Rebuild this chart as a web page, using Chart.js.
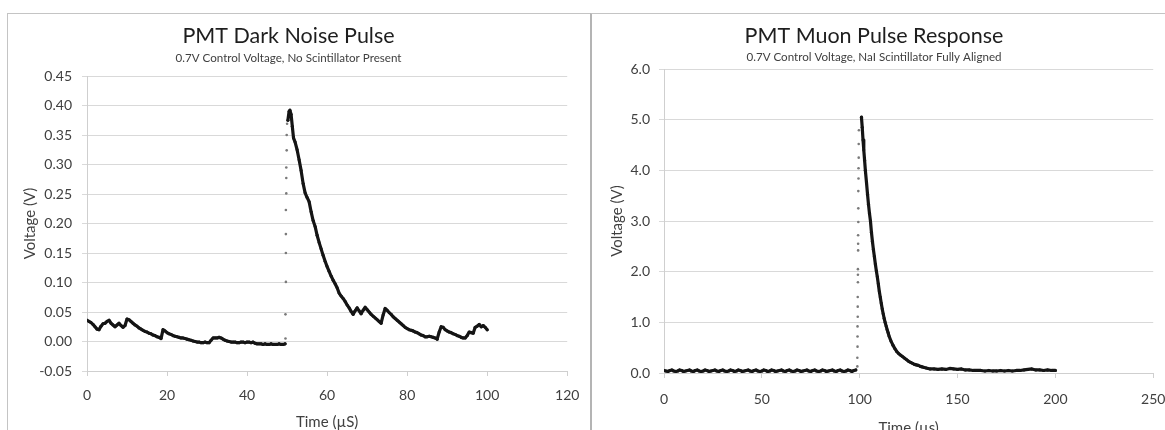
<!DOCTYPE html>
<html>
<head>
<meta charset="utf-8">
<script src="https://cdn.jsdelivr.net/npm/chart.js@4.4.1/dist/chart.umd.min.js"></script>
<style>
  html, body { margin: 0; padding: 0; background: #fff; width: 1165px; height: 430px; overflow: hidden; position: relative; }
  .panel { position: absolute; top: 13px; background: #fff; overflow: hidden; border-top: 1px solid #c4c4c4; }
  #darkPanel { left: 7px; width: 583px; height: 440px; border-left: 1px solid #c4c4c4; }
  #muonPanel { left: 590px; width: 600px; height: 440px; border-left: 2px solid #b4b4b4; }
  canvas { display: block; }
</style>
</head>
<body>
<div class="panel" id="darkPanel"><canvas id="darkChart" width="582" height="430"></canvas></div>
<div class="panel" id="muonPanel"><canvas id="muonChart" width="586" height="430"></canvas></div>
<script>
// ---- PMT dark noise pulse (0.7 V control voltage, no scintillator) ----
const darkBaseT = [0, 0.5, 1, 1.5, 2, 2.5, 3, 3.5, 4, 4.5, 5, 5.5, 6, 6.5, 7, 7.5, 8, 8.5, 9, 9.5,
  10, 10.5, 11, 11.5, 12, 12.5, 13, 13.5, 14, 14.5, 15, 15.5, 16, 16.5, 17, 17.5, 18, 18.5, 19, 19.5,
  20, 20.5, 21, 21.5, 22, 22.5, 23, 23.5, 24, 24.5, 25, 25.5, 26, 26.5, 27, 27.5, 28, 28.5, 29, 29.5,
  30, 30.5, 31, 31.5, 32, 32.5, 33, 33.5, 34, 34.5, 35, 35.5, 36, 36.5, 37, 37.5, 38, 38.5, 39, 39.5,
  40, 40.5, 41, 41.5, 42, 42.5, 43, 43.5, 44, 44.5, 45, 45.5, 46, 46.5, 47, 47.5, 48, 48.5, 49, 49.5];
const darkBaseV = [0.036, 0.034, 0.032, 0.029, 0.025, 0.021, 0.020, 0.026, 0.030, 0.031, 0.034, 0.036, 0.031, 0.028, 0.025, 0.028, 0.031, 0.027, 0.024, 0.027,
  0.038, 0.037, 0.034, 0.031, 0.028, 0.026, 0.023, 0.021, 0.019, 0.017, 0.016, 0.014, 0.013, 0.011, 0.010, 0.008, 0.007, 0.005, 0.020, 0.018,
  0.015, 0.013, 0.012, 0.010, 0.009, 0.008, 0.007, 0.006, 0.006, 0.005, 0.004, 0.003, 0.002, 0.001, 0.000, -0.001, -0.001, -0.002, -0.002, -0.001,
  -0.002, -0.002, 0.002, 0.006, 0.006, 0.006, 0.007, 0.006, 0.004, 0.002, 0.001, 0.000, -0.001, -0.001, -0.001, -0.002, -0.002, -0.001, -0.001, -0.002,
  -0.001, -0.001, -0.002, -0.001, -0.003, -0.004, -0.004, -0.004, -0.005, -0.004, -0.005, -0.005, -0.004, -0.005, -0.005, -0.005, -0.004, -0.005, -0.005, -0.004];
const darkEdgeT = [49.6, 49.6, 49.7, 49.7, 49.7, 49.7, 49.8, 49.8, 49.8, 49.9, 49.9, 50.0];
const darkEdgeV = [0.005, 0.046, 0.101, 0.150, 0.182, 0.223, 0.251, 0.277, 0.295, 0.324, 0.350, 0.369];
const darkDecayT = [50.2, 50.5, 50.7, 51, 51.3, 51.6, 52, 52.5, 53, 53.5, 54, 54.5, 55, 55.5, 56, 56.5, 57, 57.5, 58, 58.5,
  59, 59.5, 60, 60.5, 61, 61.5, 62, 62.5, 63, 63.5, 64, 64.5, 65, 65.5, 66, 66.5, 67, 67.5, 68, 68.5,
  69, 69.5, 70, 70.5, 71, 71.5, 72, 72.5, 73, 73.5, 74, 74.5, 75, 75.5, 76, 76.5, 77, 77.5, 78, 78.5,
  79, 79.5, 80, 80.5, 81, 81.5, 82, 82.5, 83, 83.5, 84, 84.5, 85, 85.5, 86, 86.5, 87, 87.5, 88, 88.5,
  89, 89.5, 90, 90.5, 91, 91.5, 92, 92.5, 93, 93.5, 94, 94.5, 95, 95.5, 96, 96.5, 97, 97.5, 98, 98.5,
  99, 99.5, 100];
const darkDecayV = [0.375, 0.390, 0.392, 0.385, 0.365, 0.345, 0.338, 0.325, 0.308, 0.290, 0.268, 0.252, 0.244, 0.237, 0.220, 0.205, 0.195, 0.180, 0.168, 0.157,
  0.146, 0.136, 0.127, 0.119, 0.111, 0.104, 0.098, 0.091, 0.082, 0.077, 0.073, 0.068, 0.062, 0.057, 0.051, 0.046, 0.052, 0.057, 0.052, 0.047,
  0.053, 0.058, 0.054, 0.050, 0.046, 0.043, 0.040, 0.037, 0.034, 0.031, 0.045, 0.056, 0.053, 0.049, 0.046, 0.042, 0.039, 0.036, 0.033, 0.030,
  0.027, 0.024, 0.022, 0.020, 0.019, 0.018, 0.016, 0.015, 0.013, 0.011, 0.010, 0.008, 0.008, 0.009, 0.008, 0.007, 0.006, 0.004, 0.016, 0.025,
  0.024, 0.020, 0.018, 0.016, 0.015, 0.013, 0.012, 0.010, 0.009, 0.007, 0.006, 0.006, 0.010, 0.016, 0.015, 0.014, 0.024, 0.026, 0.029, 0.025,
  0.027, 0.024, 0.020];
const darkXTicks = { min: 0, max: 120, step: 20 };
const darkYTicks = { min: -0.05, max: 0.45, step: 0.05 };

// ---- PMT muon pulse (0.7 V control voltage, NaI scintillator aligned) ----
const muonBaseT = [0, 1, 2, 3, 4, 5, 6, 7, 8, 9, 10, 11, 12, 13, 14, 15, 16, 17, 18, 19,
  20, 21, 22, 23, 24, 25, 26, 27, 28, 29, 30, 31, 32, 33, 34, 35, 36, 37, 38, 39,
  40, 41, 42, 43, 44, 45, 46, 47, 48, 49, 50, 51, 52, 53, 54, 55, 56, 57, 58, 59,
  60, 61, 62, 63, 64, 65, 66, 67, 68, 69, 70, 71, 72, 73, 74, 75, 76, 77, 78, 79,
  80, 81, 82, 83, 84, 85, 86, 87, 88, 89, 90, 91, 92, 93, 94, 95, 96, 97, 98];
const muonBaseV = [0.05, 0.04, 0.03, 0.05, 0.06, 0.04, 0.03, 0.04, 0.06, 0.05, 0.03, 0.04, 0.05, 0.06, 0.04, 0.03, 0.05, 0.06, 0.04, 0.03,
  0.04, 0.06, 0.05, 0.03, 0.04, 0.05, 0.06, 0.04, 0.03, 0.05, 0.06, 0.04, 0.03, 0.04, 0.06, 0.05, 0.03, 0.04, 0.06, 0.05,
  0.03, 0.04, 0.05, 0.06, 0.04, 0.03, 0.05, 0.06, 0.04, 0.03, 0.04, 0.06, 0.05, 0.03, 0.04, 0.06, 0.05, 0.03, 0.04, 0.05,
  0.06, 0.04, 0.03, 0.05, 0.06, 0.04, 0.03, 0.04, 0.06, 0.05, 0.03, 0.04, 0.05, 0.06, 0.04, 0.03, 0.05, 0.06, 0.04, 0.03,
  0.04, 0.06, 0.05, 0.03, 0.04, 0.05, 0.06, 0.04, 0.03, 0.05, 0.06, 0.04, 0.03, 0.04, 0.06, 0.05, 0.03, 0.05, 0.06];
const muonEdgeT = [98.8, 98.8, 98.9, 98.9, 98.9, 99.0, 99.0, 99.0, 99.1, 99.1, 99.1, 99.2, 99.2, 99.2, 99.3, 99.3, 99.3, 99.4, 99.4, 99.5, 99.5, 99.6];
const muonEdgeV = [0.13, 0.30, 0.52, 0.72, 0.92, 1.11, 1.31, 1.50, 1.79, 1.94, 2.05, 2.42, 2.55, 2.72, 2.98, 3.25, 3.59, 3.84, 4.04, 4.25, 4.52, 4.79];
const muonDecayT = [100.9, 101.3, 101.7, 102.1, 102.5, 102.9, 103.5, 104, 104.5, 105, 105.5, 106, 106.5, 107, 107.5, 108, 108.5, 109, 109.5, 110,
  110.5, 111, 111.5, 112, 112.5, 113, 113.5, 114, 114.5, 115, 116, 117, 118, 119, 120, 121, 122, 123, 124, 125,
  126, 127, 128, 129, 130, 131, 132, 133, 134, 135, 136, 138, 140, 142, 144, 146, 148, 150, 152, 154,
  156, 158, 160, 162, 164, 166, 168, 170, 172, 174, 176, 178, 180, 182, 184, 186, 188, 190, 192, 194,
  196, 198, 200];
const muonDecayV = [5.05, 4.85, 4.60, 4.40, 4.20, 4.00, 3.75, 3.53, 3.33, 3.15, 3.00, 2.78, 2.60, 2.44, 2.30, 2.15, 2.02, 1.90, 1.76, 1.62,
  1.50, 1.38, 1.27, 1.17, 1.08, 1.00, 0.93, 0.86, 0.80, 0.73, 0.63, 0.55, 0.48, 0.42, 0.38, 0.35, 0.32, 0.29, 0.26, 0.23,
  0.21, 0.19, 0.17, 0.16, 0.15, 0.13, 0.12, 0.11, 0.10, 0.09, 0.08, 0.08, 0.07, 0.08, 0.07, 0.09, 0.08, 0.07, 0.08, 0.06,
  0.06, 0.05, 0.05, 0.05, 0.04, 0.05, 0.04, 0.04, 0.05, 0.04, 0.05, 0.04, 0.05, 0.05, 0.06, 0.07, 0.08, 0.06, 0.06, 0.05,
  0.06, 0.05, 0.05];
const muonXTicks = { min: 0, max: 250, step: 50 };
const muonYTicks = { min: 0, max: 6, step: 1 };

// ---- shared styling ----
const FONT = 'Lato, "Open Sans", "Liberation Sans", sans-serif';
const TEXT = '#404040';
const GRID = '#d9d9d9';
const AXIS = '#cfcfcf';

const pairs = (xs, ys) => xs.map((x, i) => ({ x: x, y: ys[i] }));

function traceSet(xs, ys) {
  return {
    data: pairs(xs, ys), showLine: true, borderColor: '#151515', borderWidth: 3.2,
    borderJoinStyle: 'round', borderCapStyle: 'round',
    pointRadius: 1.5, pointBackgroundColor: '#151515', pointBorderWidth: 0, tension: 0
  };
}
function edgeSet(xs, ys) {
  return {
    data: pairs(xs, ys), showLine: false, pointRadius: 1.3,
    pointBackgroundColor: '#7a7a7a', pointBorderWidth: 0
  };
}

function buildChart(id, cfg) {
  return new Chart(document.getElementById(id), {
    type: 'scatter',
    data: { datasets: cfg.datasets },
    options: {
      responsive: false, animation: false, devicePixelRatio: 1,
      layout: { padding: { left: 0, right: cfg.padRight, top: 0, bottom: 0 } },
      plugins: {
        legend: { display: false }, tooltip: { enabled: false },
        title: {
          display: true, text: cfg.title, color: '#1e1e1e',
          font: { family: FONT, size: 21.5, weight: 'normal', lineHeight: 1.2 },
          padding: { top: 9.1, bottom: 0 }
        },
        subtitle: {
          display: true, text: cfg.subtitle, color: TEXT,
          font: { family: FONT, size: 11.6, weight: 'normal', lineHeight: 1.2 },
          padding: { top: cfg.subTop, bottom: cfg.subBottom }
        }
      },
      scales: {
        x: {
          type: 'linear', min: cfg.xTicks.min, max: cfg.xTicks.max,
          afterFit: s => { s.height = cfg.xHeight; },
          ticks: { stepSize: cfg.xTicks.step, color: TEXT, padding: cfg.xTickPad,
                   font: { family: FONT, size: 14 }, maxRotation: 0,
                   callback: v => String(v) },
          grid: { drawOnChartArea: false, drawTicks: true, tickLength: 5, color: AXIS },
          border: { display: true, color: AXIS },
          title: { display: true, text: cfg.xTitle, color: TEXT,
                   font: { family: FONT, size: 15, lineHeight: 1.2 },
                   padding: { top: 0, bottom: cfg.xTitleBottom } }
        },
        y: {
          type: 'linear', min: cfg.yTicks.min, max: cfg.yTicks.max,
          afterFit: s => { s.width = cfg.yWidth; },
          ticks: { stepSize: cfg.yTicks.step, color: TEXT, padding: cfg.yTickPad,
                   font: { family: FONT, size: 14 },
                   callback: v => Number(v).toFixed(cfg.yDigits) },
          grid: { color: GRID, lineWidth: 1, drawTicks: true, tickLength: 5 },
          border: { display: true, color: AXIS },
          title: { display: true, text: 'Voltage (V)', color: TEXT,
                   font: { family: FONT, size: 15, lineHeight: 1.2 },
                   padding: { top: cfg.yTitleTop, bottom: 0 } }
        }
      }
    }
  });
}

buildChart('darkChart', {
  title: 'PMT Dark Noise Pulse',
  subtitle: '0.7V Control Voltage, No Scintillator Present',
  xTitle: 'Time (\u00b5S)',
  datasets: [traceSet(darkBaseT, darkBaseV), edgeSet(darkEdgeT, darkEdgeV), traceSet(darkDecayT, darkDecayV)],
  xTicks: darkXTicks, yTicks: darkYTicks, yDigits: 2,
  padRight: 21, yWidth: 79, xHeight: 73, subTop: 2.14, subBottom: 11.04,
  xTickPad: 10.6, xTitleBottom: 13, yTickPad: 10, yTitleTop: 13
});

buildChart('muonChart', {
  title: 'PMT Muon Pulse Response',
  subtitle: '0.7V Control Voltage, NaI Scintillator Fully Aligned',
  xTitle: 'Time (\u00b5s)',
  datasets: [traceSet(muonBaseT, muonBaseV), edgeSet(muonEdgeT, muonEdgeV), traceSet(muonDecayT, muonDecayV)],
  xTicks: muonXTicks, yTicks: muonYTicks, yDigits: 1,
  padRight: 22, yWidth: 72, xHeight: 71, subTop: 1.14, subBottom: 5.04,
  xTickPad: 12.6, xTitleBottom: 7, yTickPad: 9, yTitleTop: 16
});
</script>
</body>
</html>
